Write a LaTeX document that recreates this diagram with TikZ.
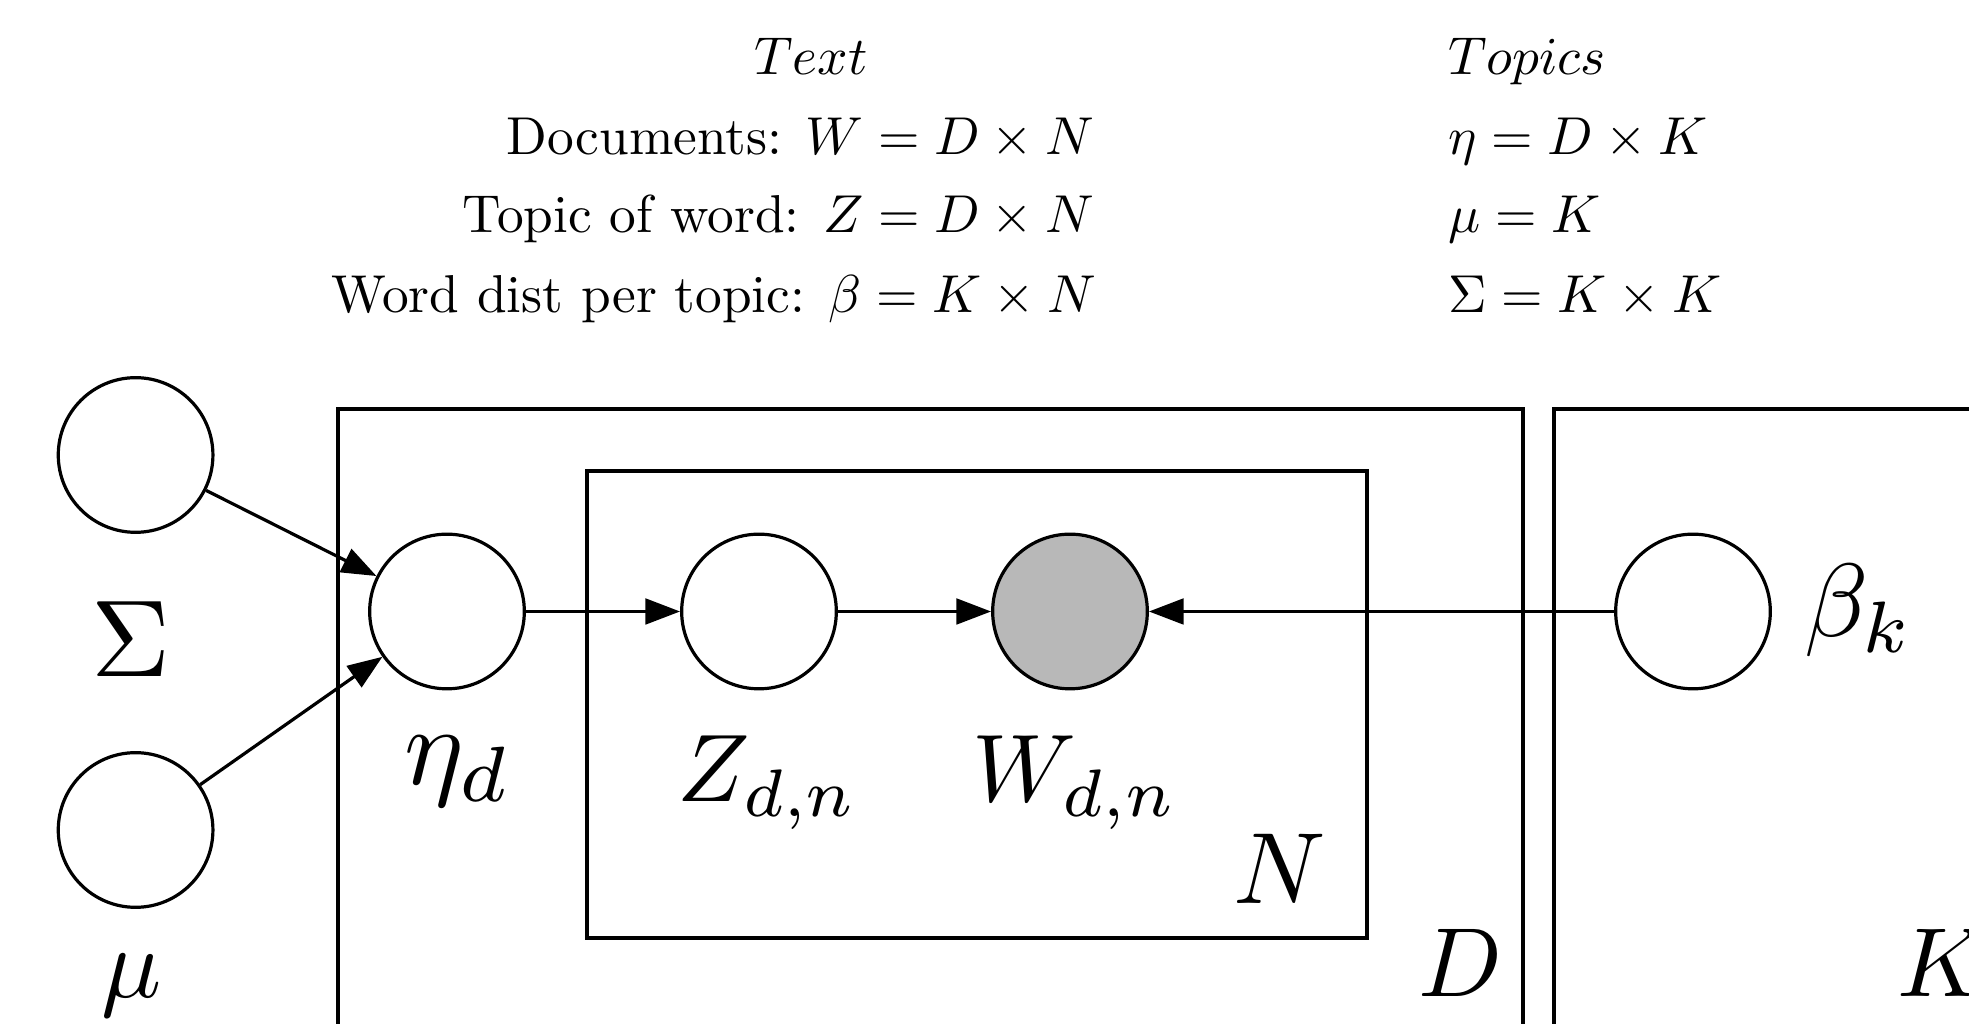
\documentclass[tikz,border=0pt]{standalone}
\usetikzlibrary{arrows.meta}
\definecolor{obsgray}{RGB}{184,184,184}
\begin{document}
\begin{tikzpicture}[x=0.1875pt,y=-0.1875pt,
  var/.style={circle,draw,line width=0.6pt,minimum size=29pt,inner sep=0pt,fill=white},
  obs/.style={var,fill=obsgray},
  plate/.style={draw,line width=0.6pt},
  arr/.style={line width=0.6pt,-{Triangle[length=6.5pt,width=4.8pt]}},
  hdr/.style={inner sep=0pt},
  lbl/.style={inner sep=0pt,anchor=base,scale=#1}
]
\useasboundingbox (0,0) rectangle (1969,1024);
\clip (0,0) rectangle (1969,1024);
% plates
\draw[plate] (338,409) rectangle (1523,1100);
\draw[plate] (587,471) rectangle (1367,938);
\draw[plate] (1554,409) rectangle (2100,1100);
% variables
\node[var] (Sigma) at (135.6,455) {};
\node[var] (mu) at (135.6,830) {};
\node[var] (eta) at (447,611.5) {};
\node[var] (Z) at (759,611.5) {};
\node[obs] (W) at (1070,611.5) {};
\node[var] (beta) at (1693,611.5) {};
% edges
\draw[arr] (Sigma) -- (eta);
\draw[arr] (mu) -- (eta);
\draw[arr] (eta) -- (Z);
\draw[arr] (Z) -- (W);
\draw[arr] (beta) -- (W);
% labels
\node[lbl=2.05] (lSigma) at (131,677) {$\Sigma$};
\node[lbl=1.875] (lmu) at (132,998) {$\mu$};
\node[lbl=2.1] (leta) at (458,785) {$\eta_d$};
\node[lbl=1.8] (lZ) at (768,802) {$Z_{d,n}$};
\node[lbl=1.8] (lW) at (1075,802) {$W_{d,n}$};
\node[lbl=1.9] (lN) at (1280,904) {$N$};
\node[lbl=1.84] (lD) at (1460,997) {$D$};
\node[lbl=1.84,anchor=base west] (lK) at (1896,997) {$K$};
\node[lbl=1.95] (lbeta) at (1859,637) {$\beta_k$};
% header text
\node[hdr,anchor=base] (hText) at (811,75) {$Text$};
\node[hdr,anchor=base west] (hTopics) at (1447,75) {$Topics$};
\node[hdr,anchor=base east] (r1) at (1095,155) {Documents: $W = D\times N$};
\node[hdr,anchor=base east] (r2) at (1095,233) {Topic of word: $Z = D\times N$};
\node[hdr,anchor=base east] (r3) at (1097,313) {Word dist per topic: $\beta = K\times N$};
\node[hdr,anchor=base west] (s1) at (1447,155) {$\eta = D\times K$};
\node[hdr,anchor=base west] (s2) at (1447,233) {$\mu = K$};
\node[hdr,anchor=base west] (s3) at (1447,313) {$\Sigma = K\times K$};
\end{tikzpicture}
\end{document}
